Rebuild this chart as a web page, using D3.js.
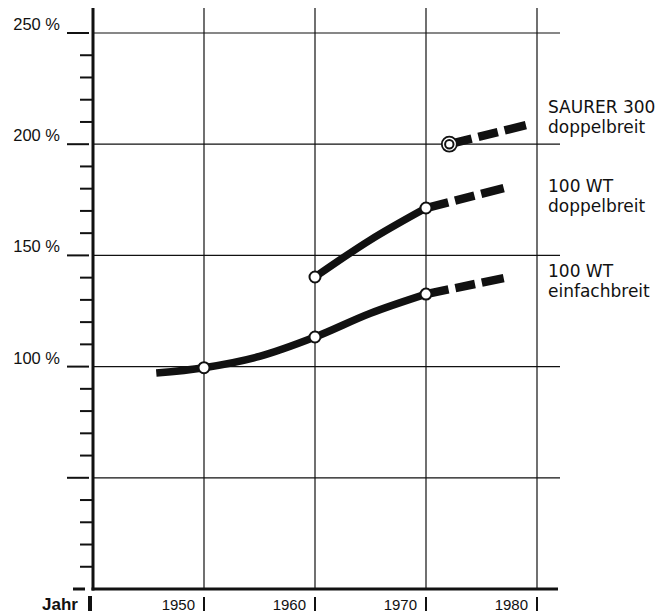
<!DOCTYPE html>
<html lang="de">
<head>
<meta charset="UTF-8">
<title>Leistungsentwicklung</title>
<script src="https://d3js.org/d3.v7.min.js"></script>
<style>
  body { margin: 0; background: #fff; }
  svg { display: block; }
  .lab { font-family: "Liberation Sans", Arial, sans-serif; fill: #111; }
  .series-lab { font-family: "DejaVu Sans", sans-serif; font-size: 17px; fill: #111; }
</style>
</head>
<body>
<svg width="659" height="613"></svg>
<script>
// --- data ---
const years = [1950, 1960, 1970, 1980];
const majorTicks = [0, 50, 100, 150, 200, 250];
const minorTicks = d3.range(10, 250, 10).filter(v => v % 50 !== 0);
const pctLabels = [100, 150, 200, 250];

const einfachSolid  = [[1945.7, 97.1], [1950, 99.5], [1955, 104.6], [1960, 113.3], [1965, 124], [1970, 132.6]];
const einfachDashed = [[1970, 132.6], [1977, 139.8]];
const doppelSolid   = [[1960, 140.3], [1965, 157], [1970, 171.3]];
const doppelDashed  = [[1970, 171.3], [1977, 180.3]];
const saurerDashed  = [[1972.1, 200], [1979, 208.6]];

const points = [[1950, 99.5], [1960, 113.3], [1970, 132.6], [1960, 140.3], [1970, 171.3]];
const saurerPoint = [1972.1, 200];

const seriesLabels = [
  { lines: ["SAURER 300", "doppelbreit"], y: 113 },
  { lines: ["100 WT", "doppelbreit"], y: 192 },
  { lines: ["100 WT", "einfachbreit"], y: 277 }
];

const svg = d3.select("svg");
const x = d3.scaleLinear().domain([1940, 1980]).range([93, 537]);
const y = d3.scaleLinear().domain([0, 250]).range([589, 33]);

const ink = "#111";

// grid
svg.append("g").selectAll("line")
  .data(majorTicks.filter(d => d > 0))
  .join("line")
  .attr("x1", x(1940)).attr("x2", 560)
  .attr("y1", d => y(d)).attr("y2", d => y(d))
  .attr("stroke", ink).attr("stroke-width", 1.2);

svg.append("g").selectAll("line")
  .data(years)
  .join("line")
  .attr("x1", d => x(d)).attr("x2", d => x(d))
  .attr("y1", 8).attr("y2", y(0))
  .attr("stroke", ink).attr("stroke-width", 1.2);

// axes
svg.append("line")
  .attr("x1", x(1940)).attr("x2", x(1940))
  .attr("y1", 8).attr("y2", y(0) + 1.5)
  .attr("stroke", ink).attr("stroke-width", 3);
svg.append("line")
  .attr("x1", x(1940) - 1.5).attr("x2", 558)
  .attr("y1", y(0)).attr("y2", y(0))
  .attr("stroke", ink).attr("stroke-width", 3);

// y ticks
svg.append("g").selectAll("line")
  .data(minorTicks)
  .join("line")
  .attr("x1", x(1940) - 13).attr("x2", x(1940))
  .attr("y1", d => y(d)).attr("y2", d => y(d))
  .attr("stroke", ink).attr("stroke-width", 2);

svg.append("g").selectAll("line")
  .data(majorTicks)
  .join("line")
  .attr("x1", d => d === 0 ? 73 : 67).attr("x2", d => d === 0 ? 85 : 89)
  .attr("y1", d => y(d)).attr("y2", d => y(d))
  .attr("stroke", ink).attr("stroke-width", d => d === 0 ? 3 : 2);

svg.append("g").selectAll("text")
  .data(pctLabels)
  .join("text")
  .attr("class", "lab")
  .attr("x", 60).attr("y", d => y(d) - 3)
  .attr("text-anchor", "end")
  .style("font-size", "16.5px")
  .text(d => d + " %");

// x labels
svg.append("g").selectAll("text")
  .data(years)
  .join("text")
  .attr("class", "lab")
  .attr("x", d => x(d) - 9).attr("y", 610)
  .attr("text-anchor", "end")
  .style("font-size", "15px")
  .text(d => d);

svg.append("g").selectAll("line")
  .data(years)
  .join("line")
  .attr("x1", d => x(d)).attr("x2", d => x(d))
  .attr("y1", 597).attr("y2", 611)
  .attr("stroke", ink).attr("stroke-width", 2);

svg.append("text")
  .attr("class", "lab")
  .attr("x", 78).attr("y", 610)
  .attr("text-anchor", "end")
  .style("font-size", "17px")
  .style("font-weight", "bold")
  .text("Jahr");
svg.append("line")
  .attr("x1", x(1940) - 3).attr("x2", x(1940) - 3)
  .attr("y1", 596).attr("y2", 611)
  .attr("stroke", ink).attr("stroke-width", 4);

// curves
const smooth = d3.line().x(d => x(d[0])).y(d => y(d[1])).curve(d3.curveCatmullRom.alpha(0.5));
const straight = d3.line().x(d => x(d[0])).y(d => y(d[1]));

[einfachSolid, doppelSolid].forEach(s => {
  svg.append("path")
    .attr("d", smooth(s))
    .attr("fill", "none").attr("stroke", ink)
    .attr("stroke-width", 7.5);
});

[einfachDashed, doppelDashed, saurerDashed].forEach(s => {
  svg.append("path")
    .attr("d", straight(s))
    .attr("fill", "none").attr("stroke", ink)
    .attr("stroke-width", 8.5)
    .attr("stroke-dasharray", "23,7,20,7,24,30");
});

// markers
svg.append("g").selectAll("circle")
  .data(points)
  .join("circle")
  .attr("cx", d => x(d[0])).attr("cy", d => y(d[1]))
  .attr("r", 5.5)
  .attr("fill", "#fff").attr("stroke", ink).attr("stroke-width", 2);

svg.append("circle")
  .attr("cx", x(saurerPoint[0])).attr("cy", y(saurerPoint[1]))
  .attr("r", 7.5)
  .attr("fill", "#fff").attr("stroke", ink).attr("stroke-width", 1.8);
svg.append("circle")
  .attr("cx", x(saurerPoint[0])).attr("cy", y(saurerPoint[1]))
  .attr("r", 4.2)
  .attr("fill", "#fff").attr("stroke", ink).attr("stroke-width", 2);

// series labels
seriesLabels.forEach(l => {
  const t = svg.append("text").attr("class", "series-lab");
  l.lines.forEach((ln, i) => {
    t.append("tspan").attr("x", 548).attr("y", l.y + i * 20).text(ln);
  });
});
</script>
</body>
</html>
